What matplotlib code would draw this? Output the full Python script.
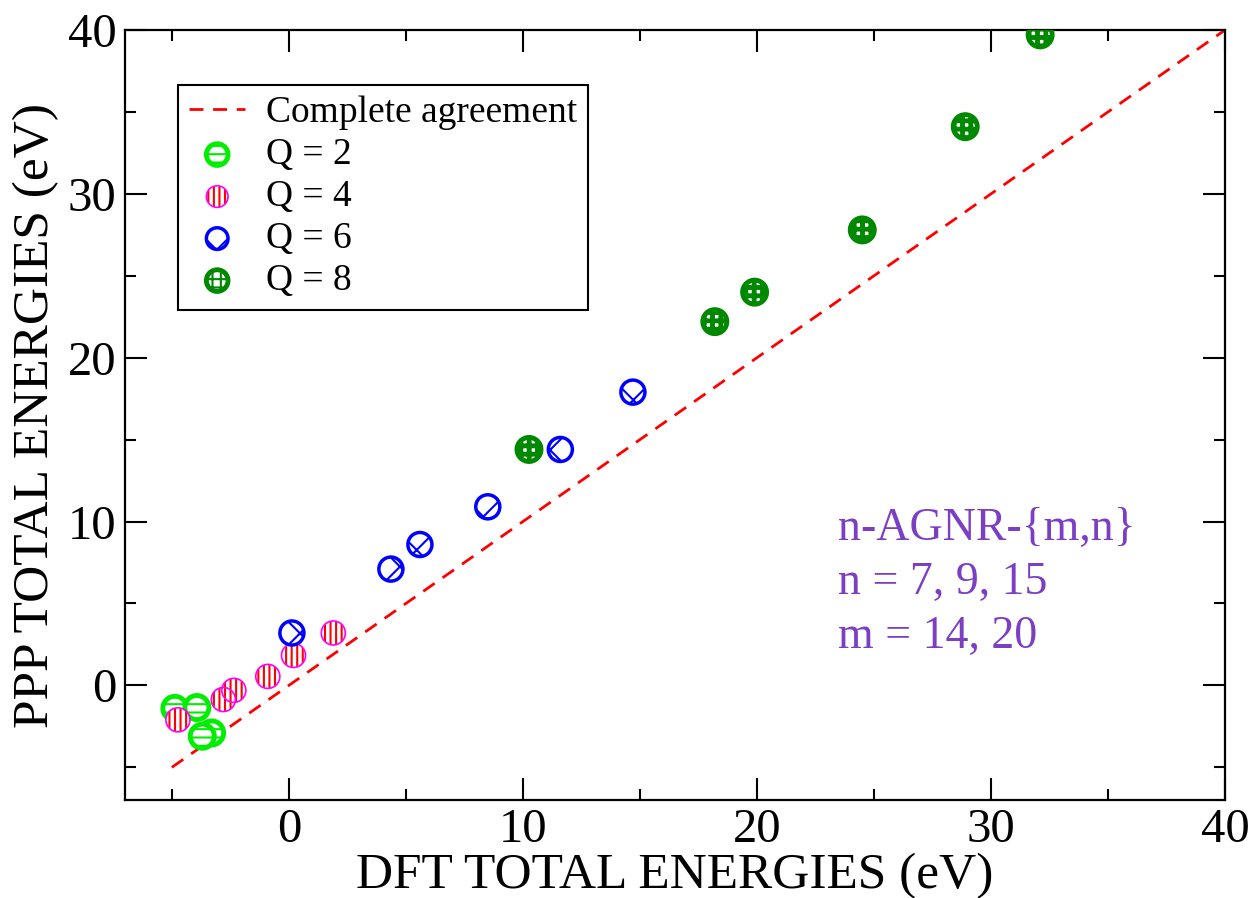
import numpy as np
import matplotlib
matplotlib.use("Agg")
import matplotlib.pyplot as plt
from matplotlib.legend_handler import HandlerTuple

plt.rcParams["font.family"] = ["Liberation Serif", "DejaVu Serif"]
plt.rcParams["hatch.linewidth"] = 1.5

# data: DFT vs PPP total energies (eV) by charge Q
q2_dft = [-4.87, -3.93, -3.3, -3.7]
q2_ppp = [-1.4, -1.35, -2.9, -3.1]

q4_dft = [-4.74, -2.8, -2.35, -0.9, 0.2, 1.9]
q4_ppp = [-2.1, -0.86, -0.3, 0.55, 1.83, 3.2]

q6_dft = [0.13, 4.36, 5.6, 8.5, 11.6, 14.7]
q6_ppp = [3.2, 7.1, 8.6, 10.9, 14.4, 17.9]

q8_dft = [10.26, 18.2, 19.9, 24.5, 28.9, 32.1]
q8_ppp = [14.4, 22.2, 24.0, 27.8, 34.1, 39.7]

line_x = [-5, 40]

MS = 300
PURPLE = "#7b3fc4"

fig = plt.figure(figsize=(12.54, 8.98), dpi=100)
ax = fig.add_axes([0.0997, 0.109, 0.8772, 0.8576])

(ln,) = ax.plot(line_x, line_x, color="red", ls=(0, (5, 3.5)), lw=2, zorder=2)

# Q = 2
h2 = ax.scatter(q2_dft, q2_ppp, s=MS, facecolor="white", edgecolor="#00ee00",
                linewidth=3.5, hatch="--", zorder=3)

# Q = 4 : red vertical hatch, magenta rim
h4a = ax.scatter(q4_dft, q4_ppp, s=MS, facecolor="white", edgecolor="red",
                 linewidth=0, hatch="|||", zorder=3)
h4b = ax.scatter(q4_dft, q4_ppp, s=MS, facecolor="none", edgecolor="magenta",
                 linewidth=1.2, zorder=3)

# Q = 6
h6a = ax.scatter(q6_dft, q6_ppp, s=MS, facecolor="white", edgecolor="blue",
                 linewidth=0, hatch="x", zorder=3)
h6b = ax.scatter(q6_dft, q6_ppp, s=MS, facecolor="none", edgecolor="blue",
                 linewidth=2.5, zorder=3)

# Q = 8 : green with white grid squares
h8a = ax.scatter(q8_dft, q8_ppp, s=MS, facecolor="white", edgecolor="#008800",
                 linewidth=0, hatch="++", zorder=3)
if hasattr(h8a, "set_hatch_linewidth"):
    h8a.set_hatch_linewidth(3.5)
h8b = ax.scatter(q8_dft, q8_ppp, s=MS, facecolor="none", edgecolor="#008800",
                 linewidth=3.5, zorder=3)

ax.set_xlim(-7, 40)
ax.set_ylim(-7, 40)
ax.set_xticks([0, 10, 20, 30, 40])
ax.set_yticks([0, 10, 20, 30, 40])
ax.set_xticks([-5, 5, 15, 25, 35], minor=True)
ax.set_yticks([-5, 5, 15, 25, 35], minor=True)
ax.tick_params(which="both", direction="in", top=True, right=True,
               labelsize=35, width=1.5)
ax.tick_params(which="major", length=16, pad=6)
ax.tick_params(which="minor", length=8)
for sp in ax.spines.values():
    sp.set_linewidth(1.6)

ax.set_xlabel("DFT TOTAL ENERGIES (eV)", fontsize=37, labelpad=0)
ax.set_ylabel("PPP TOTAL ENERGIES (eV)", fontsize=37, labelpad=6)

leg = ax.legend([ln, h2, (h4a, h4b), (h6a, h6b), (h8a, h8b)],
                ["Complete agreement", "Q = 2", "Q = 4", "Q = 6", "Q = 8"],
                handler_map={tuple: HandlerTuple(ndivide=1, pad=0)},
                loc="upper left", bbox_to_anchor=(0.048, 0.929),
                borderaxespad=0, fontsize=27, fancybox=False,
                edgecolor="black", framealpha=1, handlelength=1.5,
                handletextpad=0.55, labelspacing=0.2, borderpad=0.3,
                markerscale=0.9)
leg.get_frame().set_linewidth(1.5)

ax.text(0.648, 0.38, "n-AGNR-{m,n}\nn = 7, 9, 15\nm = 14, 20",
        transform=ax.transAxes, fontsize=33, color=PURPLE,
        va="top", ha="left", linespacing=1.35)

fig.savefig("out.png", dpi=100)
